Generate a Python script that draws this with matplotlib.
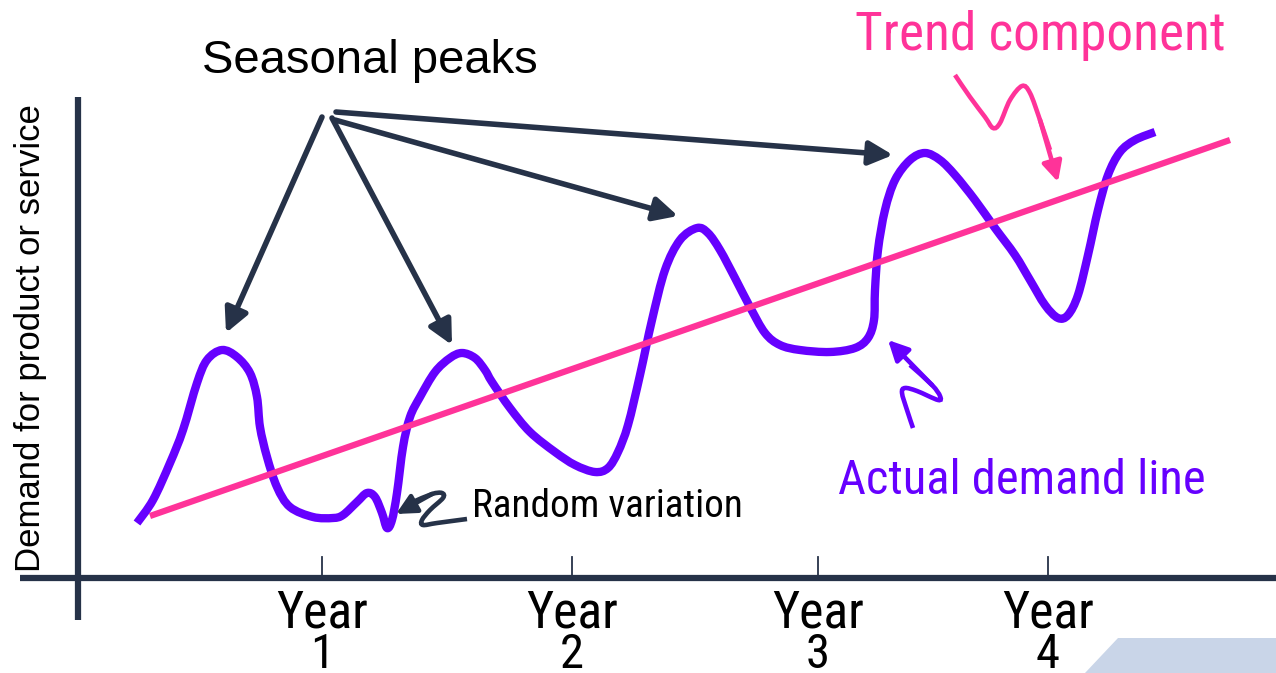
import matplotlib
matplotlib.use("Agg")
import matplotlib.pyplot as plt
from matplotlib.patches import FancyArrowPatch, Polygon, PathPatch
from matplotlib.path import Path

navy = "#263248"
purple = "#6600FF"
pink = "#FF3399"

# actual demand curve (x, y in picture units, y grows downward)
demand_x = [137, 153, 170, 183, 197, 207, 222, 237, 250, 257, 260, 267, 277, 290,
            313, 333, 343, 357, 367, 375, 382, 387, 392, 397, 403, 410, 420, 435,
            450, 462, 475, 485, 492, 510, 530, 555, 575, 595, 608, 618, 628, 640,
            652, 665, 680, 697, 708, 720, 735, 750, 765, 780, 800, 830, 855, 868,
            874, 875, 878, 885, 895, 910, 925, 940, 955, 975, 995, 1015, 1030,
            1045, 1058, 1068, 1078, 1088, 1098, 1108, 1120, 1135, 1155]
demand_y = [523, 500, 463, 430, 383, 360, 350, 357, 373, 397, 427, 457, 487, 507,
            517, 518, 515, 502, 493, 497, 513, 528, 520, 493, 447, 417, 397, 372,
            358, 353, 358, 370, 382, 408, 432, 452, 465, 472, 468, 452, 425, 375,
            320, 270, 240, 228, 233, 250, 278, 307, 333, 345, 350, 352, 348, 338,
            320, 290, 250, 210, 180, 160, 153, 160, 175, 200, 228, 255, 280,
            305, 318, 315, 295, 255, 210, 175, 152, 140, 132]

# trend line
trend_x = [150, 1230]
trend_y = [516, 140]

# year ticks
year_pos = [322, 572, 818, 1048]
year_labels = ["1", "2", "3", "4"]

# seasonal peak arrows: start -> tip
peak_start = [(322, 117), (332, 118), (335, 120), (336, 112)]
peak_tip = [(226, 333), (452, 345), (678, 216), (893, 155)]

# squiggle arrows
trend_sq_x = [955, 970, 985, 993, 1000, 1010, 1022, 1030, 1040, 1050, 1058]
trend_sq_y = [75, 97, 117, 128, 123, 100, 86, 93, 120, 150, 182]
actual_sq_x = [913, 907, 902, 905, 917, 938, 940, 932, 910, 888]
actual_sq_y = [428, 410, 393, 388, 391, 400, 396, 385, 365, 340]
random_sq_x = [467, 437, 423, 422, 430, 443, 442, 432, 413, 396]
random_sq_y = [519, 523, 525, 520, 510, 498, 493, 494, 502, 514]

narrow = ["Roboto Condensed", "Liberation Sans", "DejaVu Sans"]
normal = ["Liberation Sans", "DejaVu Sans"]

fig = plt.figure(figsize=(12.76, 6.73), dpi=100)
ax = fig.add_axes([0, 0, 1, 1])
ax.set_xlim(0, 1276)
ax.set_ylim(673, 0)
ax.axis("off")


def smooth_path(xs, ys):
    # cubic bezier through the points (catmull-rom style handles)
    pts = list(zip(xs, ys))
    verts = [pts[0]]
    codes = [Path.MOVETO]
    n = len(pts)
    for i in range(n - 1):
        p0 = pts[max(i - 1, 0)]
        p1 = pts[i]
        p2 = pts[i + 1]
        p3 = pts[min(i + 2, n - 1)]
        c1 = (p1[0] + (p2[0] - p0[0]) / 6, p1[1] + (p2[1] - p0[1]) / 6)
        c2 = (p2[0] - (p3[0] - p1[0]) / 6, p2[1] - (p3[1] - p1[1]) / 6)
        verts += [c1, c2, p2]
        codes += [Path.CURVE4] * 3
    return Path(verts, codes)


def fit_text(x, y, s, width, vertical=False, **kw):
    t = ax.text(x, y, s, **kw)
    r = fig.canvas.get_renderer()
    ext = t.get_window_extent(r)
    w = ext.height if vertical else ext.width
    t.set_fontsize(t.get_fontsize() * width / w)
    return t


# corner decoration
ax.add_patch(Polygon([(1085, 673), (1118, 638), (1276, 638), (1276, 673)],
                     closed=True, color="#C9D5E8", lw=0))

# axes
ax.plot([78, 78], [97, 620], color=navy, lw=4.5, solid_capstyle="butt")
ax.plot([20, 1276], [578, 578], color=navy, lw=4.5, solid_capstyle="butt")
for xp, lab in zip(year_pos, year_labels):
    ax.plot([xp, xp], [557, 578], color=navy, lw=1.3)
    fit_text(xp, 627, "Year", 92, ha="center", va="baseline", fontsize=36, family=narrow)
    ax.text(xp, 668, lab, ha="center", va="baseline", fontsize=35, family=narrow)

fit_text(31, 338, "Demand for product or service", 467, vertical=True, rotation=90,
         ha="center", va="center", fontsize=24, family=normal)

# trend and demand
ax.plot(trend_x, trend_y, color=pink, lw=4.5, solid_capstyle="butt")
ax.add_patch(PathPatch(smooth_path(demand_x, demand_y), fill=False, ec=purple,
                       lw=6, capstyle="butt", joinstyle="round"))

# seasonal peak arrows
for s, t in zip(peak_start, peak_tip):
    ax.add_patch(FancyArrowPatch(s, t, arrowstyle="-|>,head_length=1.2,head_width=0.6",
                                 mutation_scale=12, color=navy, lw=4,
                                 shrinkA=0, shrinkB=0))


def squiggle(xs, ys, col):
    ax.add_patch(PathPatch(smooth_path(xs[:-1], ys[:-1]), fill=False, ec=col,
                           lw=3.3, capstyle="butt"))
    ax.add_patch(FancyArrowPatch((xs[-3], ys[-3]), (xs[-1], ys[-1]),
                                 arrowstyle="-|>,head_length=1.2,head_width=0.6",
                                 mutation_scale=10, color=col, lw=3.3,
                                 shrinkA=0, shrinkB=0))


squiggle(trend_sq_x, trend_sq_y, pink)
squiggle(actual_sq_x, actual_sq_y, purple)
squiggle(random_sq_x, random_sq_y, navy)

# labels
ax.text(370, 73, "Seasonal peaks", ha="center", va="baseline", fontsize=34, family=normal)
fit_text(855, 50, "Trend component", 370, ha="left", va="baseline", fontsize=40,
         family=narrow, color=pink)
fit_text(838, 494, "Actual demand line", 367, ha="left", va="baseline", fontsize=38,
         family=narrow, color=purple)
fit_text(472, 517, "Random variation", 270, ha="left", va="baseline", fontsize=28,
         family=narrow)

fig.savefig("out.png", dpi=100)
